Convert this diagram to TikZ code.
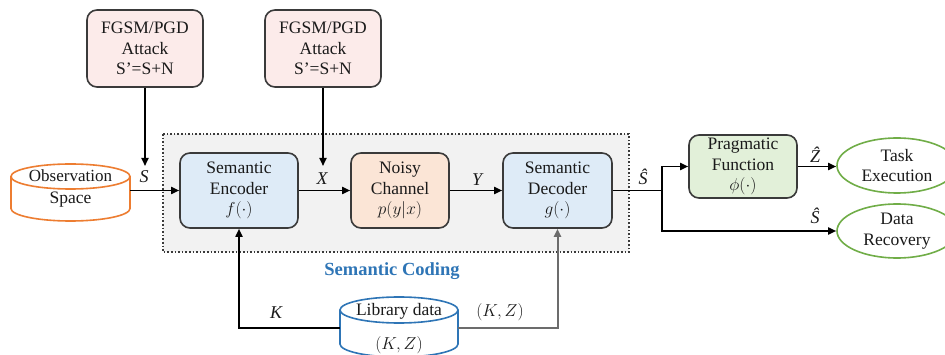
\documentclass[tikz,border=0pt]{standalone}
\usepackage{fontspec}
\setmainfont{Liberation Serif}
\usetikzlibrary{arrows.meta,shapes.geometric}
\definecolor{boxline}{HTML}{3A3A3A}
\definecolor{attfill}{HTML}{FCEBEA}
\definecolor{encfill}{HTML}{DEEBF7}
\definecolor{chfill}{HTML}{FBE5D6}
\definecolor{pragfill}{HTML}{E2F0D9}
\definecolor{regfill}{HTML}{F2F2F2}
\definecolor{obsorange}{HTML}{ED7D31}
\definecolor{libblue}{HTML}{2E75B6}
\definecolor{okgreen}{HTML}{70AD47}
\definecolor{txt}{HTML}{1A1A1A}
\begin{document}
\begin{tikzpicture}[x=1pt,y=1pt,
  font=\fontsize{17.5}{20.5}\selectfont, text=txt,
  >={Triangle[length=8pt,width=7pt]},
  rbox/.style={draw=boxline, line width=1.6pt, rounded corners=10pt, align=center, inner sep=0pt},
  goal/.style={ellipse, draw=okgreen, line width=1.6pt, fill=white, align=center, inner sep=0pt, minimum width=120pt, minimum height=55pt},
  conn/.style={line width=1.7pt, draw=black},
  lbl/.style={inner sep=0pt, font=\fontsize{18}{20}\selectfont\itshape}
]
\useasboundingbox (0,0) rectangle (945,-355);
\fill[white] (0,0) rectangle (945,-355);

% semantic coding region
\draw[fill=regfill, draw=boxline, line width=1.6pt, dotted] (163,-134) rectangle (629,-252);
\node[inner sep=0pt, text=libblue, font=\fontsize{18.5}{21}\selectfont\bfseries] (sc) at (392,-271) {Semantic Coding};

% attack boxes
\node[rbox, fill=attfill, minimum width=116pt, minimum height=77pt] (att1) at (145,-48.5) {FGSM/PGD\\Attack\\S’=S+N};
\node[rbox, fill=attfill, minimum width=116pt, minimum height=77pt] (att2) at (323,-48.5) {FGSM/PGD\\Attack\\S’=S+N};

% main blocks
\node[rbox, fill=encfill, minimum width=118pt, minimum height=75pt] (enc) at (239,-190.5) {Semantic\\Encoder\\$f(\cdot)$};
\node[rbox, fill=chfill, minimum width=98pt, minimum height=75pt] (ch) at (400,-190.5) {Noisy\\Channel\\$p(y|x)$};
\node[rbox, fill=encfill, minimum width=109pt, minimum height=75pt] (dec) at (557.5,-190.5) {Semantic\\Decoder\\$g(\cdot)$};
\node[rbox, fill=pragfill, minimum width=108pt, minimum height=63pt] (prag) at (743,-166.5) {Pragmatic\\Function\\$\phi(\cdot)$};

% goal ellipses
\node[goal] (task) at (897,-165.5) {Task\\Execution};
\node[goal, minimum height=54pt] (dr) at (897,-231) {Data\\Recovery};

% observation space cylinder
\draw[obsorange, line width=1.6pt, fill=white] (11,-176.5) -- (11,-208.5)
  arc[start angle=180, end angle=360, x radius=59.5, y radius=12.5] -- (130,-176.5);
\draw[obsorange, line width=1.6pt, fill=white] (70.5,-176.5) ellipse [x radius=59.5, y radius=12.5];
\node[inner sep=0pt, font=\fontsize{17}{20}\selectfont] (obs1) at (70.5,-175.5) {Observation};
\node[inner sep=0pt] (obs2) at (70.5,-200) {Space};
\coordinate (obsR) at (130,-190.5);

% library data cylinder
\draw[libblue, line width=1.6pt, fill=white] (340,-310) -- (340,-344)
  arc[start angle=180, end angle=360, x radius=59, y radius=13] -- (458,-310);
\draw[libblue, line width=1.6pt, fill=white] (399,-310) ellipse [x radius=59, y radius=13];
\node[inner sep=0pt] (lib1) at (399,-311) {Library data};
\node[inner sep=0pt] (lib2) at (399,-345) {$(K,Z)$};
\coordinate (libL) at (340,-328);
\coordinate (libR) at (458,-328);

% attack arrows
\coordinate (s1) at (145,-166);
\coordinate (s2) at (323,-166);
\draw[conn,->] (att1) -- (s1);
\draw[conn,->] (att2) -- (s2);

% main chain
\draw[conn,->] (obsR) -- (obsR -| enc.west);
\draw[conn,->] (enc) -- (ch);
\draw[conn,->] (ch) -- (dec);
\coordinate (j) at (662,-190.5);
\draw[conn] (dec.east) -- (j);
\draw[conn,->] (j) |- (prag.west);
\draw[conn,->] (j) |- (dr.west);
\draw[conn,->] (prag.east) -- (prag.east -| task.west);

% library links
\draw[conn,->] (libL) -| (enc.south);
\draw[conn, draw=gray!85!black, line width=2pt, ->] (libR) -| (dec.south);

% labels
\node[lbl] (ls) at (144,-177) {S};
\node[lbl] (lx) at (322,-179) {X};
\node[lbl] (ly) at (477,-180) {Y};
\node[lbl] (lsh) at (643,-177) {Ŝ};
\node[lbl] (lzh) at (815,-155) {Ẑ};
\node[lbl] (lsh2) at (815,-216) {Ŝ};
\node[lbl] (lk) at (276,-313) {K};
\node[inner sep=0pt] (lkz) at (500,-312) {$(K,Z)$};
\end{tikzpicture}
\end{document}
